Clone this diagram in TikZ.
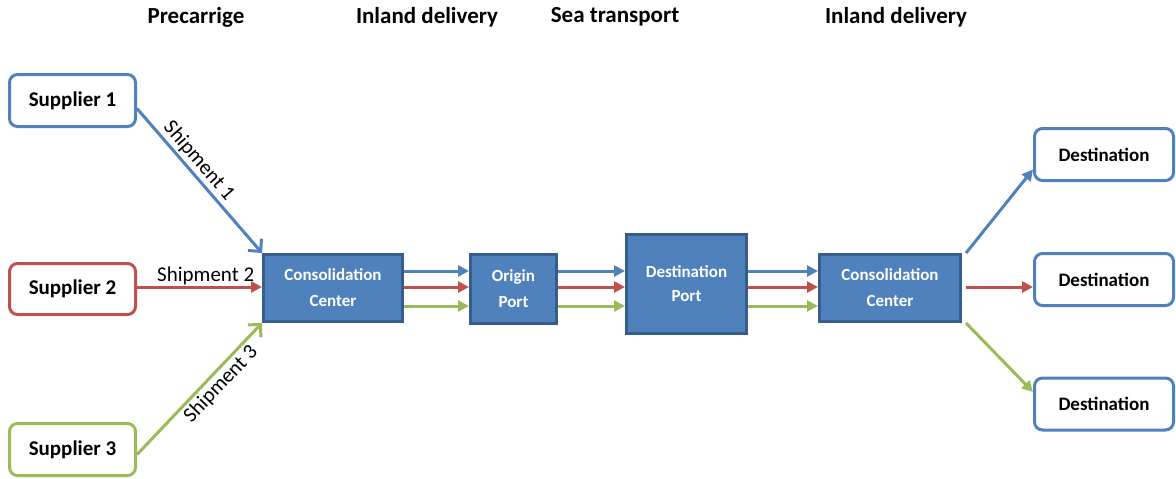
\documentclass[tikz,border=0pt]{standalone}
\usepackage{fontspec}
\setmainfont{Carlito}
\usetikzlibrary{arrows.meta,calc}
\definecolor{obl}{HTML}{4F81BD}
\definecolor{obldark}{HTML}{385D8A}
\definecolor{ored}{HTML}{C0504D}
\definecolor{ogreen}{HTML}{9BBB59}
\tikzset{
  whitebox/.style={draw, line width=3pt, rounded corners=8pt, fill=white, inner sep=0pt,
    font=\fontsize{19}{22}\selectfont\bfseries},
  supbox/.style={whitebox, font=\fontsize{21}{24}\selectfont\bfseries},
  bluebox/.style={draw=obldark, line width=3pt, fill=obl, text=white, inner sep=0pt, align=center,
    font=\fontsize{17}{26}\selectfont\bfseries},
  header/.style={font=\fontsize{23}{26}\selectfont\bfseries, inner sep=0pt},
  conn/.style={line width=3pt, -{Triangle[length=11pt,width=11pt]}},
  vconn/.style={line width=3pt, -{Straight Barb[length=9pt,width=18pt]}},
  shiplab/.style={font=\fontsize{21}{24}\selectfont, inner sep=2pt},
}
\begin{document}
\begin{tikzpicture}[x=1pt,y=-1pt]
\useasboundingbox (0,0) rectangle (1176,479);
% headers
\node[header] (h1) at (196,17) {Precarrige};
\node[header] (h2) at (427,17) {Inland delivery};
\node[header] (h3) at (615,17) {Sea transport};
\node[header] (h4) at (896,17) {Inland delivery};
% suppliers
\node[supbox, draw=obl, minimum width=126pt, minimum height=52pt] (s1) at (72.5,100.5) {Supplier 1};
\node[supbox, draw=ored, minimum width=126pt, minimum height=51pt] (s2) at (72.5,289) {Supplier 2};
\node[supbox, draw=ogreen, minimum width=126pt, minimum height=52pt] (s3) at (72.5,449.5) {Supplier 3};
% blue boxes
\node[bluebox, minimum width=139pt, minimum height=67pt] (cc1) at (333,288) {Consolidation\\Center};
\node[bluebox, minimum width=86pt, minimum height=69pt] (op) at (513.5,289) {Origin\\Port};
\node[bluebox, minimum width=120pt, minimum height=99pt, font=\fontsize{17}{24}\selectfont\bfseries] (dp) at (686.5,284) {Destination\\Port};
\node[bluebox, minimum width=141pt, minimum height=67pt] (cc2) at (890,288) {Consolidation\\Center};
% destinations
\node[whitebox, draw=obl, minimum width=139pt, minimum height=52pt] (d1) at (1104,154.5) {Destination};
\node[whitebox, draw=obl, minimum width=139pt, minimum height=52pt] (d2) at (1104,279.5) {Destination};
\node[whitebox, draw=obl, minimum width=139pt, minimum height=52pt] (d3) at (1104,404) {Destination};
% level coordinates
\coordinate (yb) at (0,271);
\coordinate (yr) at (0,287);
\coordinate (yg) at (0,306);
% supplier connectors
\draw[vconn, obl] ([yshift=-8pt]s1.east) -- (cc1.north west)
  node[shiplab, pos=0.42, sloped, above, text=black] {Shipment 1};
\draw[conn, ored] (s2.east |- yr) -- (cc1.west |- yr)
  node[shiplab, pos=0.55, above, text=black, inner sep=1pt] {Shipment 2};
\draw[vconn, ogreen] ([yshift=-5pt]s3.east) -- (cc1.south west)
  node[shiplab, pos=0.6, sloped, below, text=black] {Shipment 3};
% consolidation -> origin port
\draw[conn, obl] (cc1.east |- yb) -- (op.west |- yb);
\draw[conn, ored] (cc1.east |- yr) -- (op.west |- yr);
\draw[conn, ogreen] (cc1.east |- yg) -- (op.west |- yg);
% origin port -> destination port
\draw[conn, obl] (op.east |- yb) -- (dp.west |- yb);
\draw[conn, ored] (op.east |- yr) -- (dp.west |- yr);
\draw[conn, ogreen] (op.east |- yg) -- (dp.west |- yg);
% destination port -> consolidation 2
\draw[conn, obl] (dp.east |- yb) -- (cc2.west |- yb);
\draw[conn, ored] (dp.east |- yr) -- (cc2.west |- yr);
\draw[conn, ogreen] (dp.east |- yg) -- (cc2.west |- yg);
% consolidation 2 -> destinations
\draw[conn, obl] ([xshift=4pt]cc2.north east) -- ([yshift=-15pt]d1.west);
\draw[conn, ored] ([xshift=4pt]cc2.east |- yr) -- (d2.west |- yr);
\draw[conn, ogreen] ([xshift=4pt]cc2.south east) -- ([yshift=12pt]d3.west);
\end{tikzpicture}
\end{document}
